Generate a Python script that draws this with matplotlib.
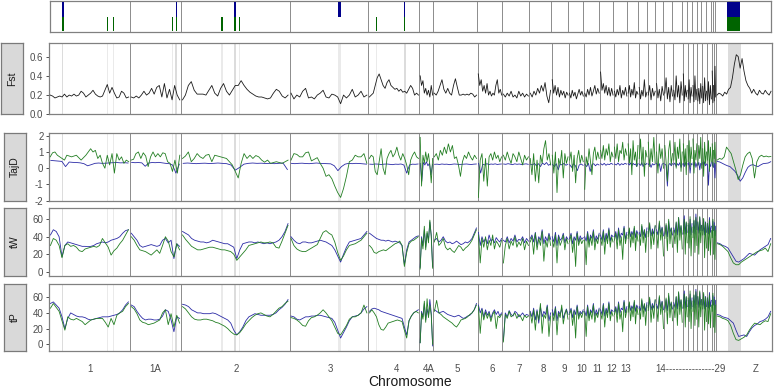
import numpy as np
import matplotlib
matplotlib.use("Agg")
import matplotlib.pyplot as plt

plt.rcParams["font.family"] = ["Liberation Sans", "DejaVu Sans"]

# chromosomes and their lengths (Mb)
chroms = ["1", "1A", "2", "3", "4", "4A", "5", "6", "7", "8", "9", "10", "11", "12", "13",
          "14", "15", "17", "18", "19", "20", "21", "22", "23", "24", "25", "26", "27", "28", "Z"]
chrom_len = [117, 74, 157, 114, 74, 20, 64, 36, 39, 32, 25, 22, 23, 20, 20,
             16, 13, 12, 12, 13, 14, 7, 7, 7, 7, 7, 7, 3, 3, 81]

axis_labels = ["1", "1A", "2", "3", "4", "4A", "5", "6", "7", "8", "9", "10", "11", "12", "13",
               "14" + "-" * 15 + "29", "Z"]
label_pos = [58.6, 153.4, 270.6, 407.7, 502.9, 549.2, 591.2, 641.8, 680.2, 715.3, 745.3,
             770.9, 792.6, 814.3, 833.6, 927.6, 1021.7]

# outlier windows (Mb position, width)
blue_pos = [19.8, 183.7, 269.1, 420.3, 515.0, 992.0]
blue_w = [2.0, 2.0, 2.0, 3.4, 2.0, 18.8]
green_pos = [19.8, 84.3, 93.0, 178.4, 183.7, 250.3, 269.1, 275.3, 474.1, 515.0, 992.0]
green_w = [2.0, 1.8, 1.8, 1.8, 2.0, 3.7, 2.0, 1.8, 1.8, 2.0, 18.8]

# one list of window values per chromosome
fst = [
    [0.20, 0.19, 0.17, 0.18, 0.19, 0.18, 0.21, 0.18, 0.20, 0.19, 0.21, 0.19, 0.20, 0.24, 0.22, 0.18, 0.20,
     0.22, 0.25, 0.21, 0.19, 0.18, 0.19, 0.25, 0.31, 0.22, 0.28, 0.22, 0.17, 0.18, 0.24, 0.22, 0.17, 0.18],
    [0.18, 0.17, 0.19, 0.17, 0.20, 0.24, 0.20, 0.22, 0.27, 0.21, 0.28, 0.30, 0.18, 0.32, 0.17, 0.26, 0.15,
     0.30, 0.20, 0.15],
    [0.15, 0.20, 0.30, 0.34, 0.25, 0.21, 0.21, 0.21, 0.20, 0.25, 0.30, 0.22, 0.19, 0.27, 0.32, 0.24, 0.20,
     0.25, 0.30, 0.30, 0.35, 0.30, 0.26, 0.23, 0.21, 0.19, 0.18, 0.18, 0.17, 0.16, 0.17, 0.22, 0.26, 0.24,
     0.19, 0.17, 0.20],
    [0.22, 0.16, 0.20, 0.18, 0.24, 0.27, 0.17, 0.18, 0.16, 0.20, 0.22, 0.25, 0.18, 0.17, 0.21, 0.20, 0.18,
     0.11, 0.20, 0.17, 0.20, 0.26, 0.18, 0.20, 0.24, 0.18, 0.20],
    [0.18, 0.20, 0.22, 0.30, 0.38, 0.42, 0.36, 0.30, 0.27, 0.33, 0.36, 0.30, 0.28, 0.26, 0.27, 0.24, 0.26,
     0.23, 0.24, 0.22, 0.26, 0.30, 0.27, 0.20, 0.22, 0.20],
    [0.40, 0.30, 0.35, 0.22, 0.27, 0.20, 0.25, 0.18, 0.30, 0.20],
    [0.22, 0.20, 0.24, 0.30, 0.36, 0.26, 0.22, 0.27, 0.22, 0.20, 0.30, 0.37, 0.28, 0.20, 0.20, 0.21, 0.20,
     0.21, 0.20, 0.22, 0.21, 0.18, 0.20],
    [0.42, 0.30, 0.36, 0.24, 0.30, 0.22, 0.32, 0.20, 0.24, 0.19, 0.22, 0.20, 0.30, 0.36, 0.22, 0.26, 0.20],
    [0.21, 0.18, 0.22, 0.19, 0.24, 0.18, 0.20, 0.17, 0.24, 0.19, 0.22, 0.18, 0.21, 0.19],
    [0.22, 0.18, 0.24, 0.20, 0.27, 0.22, 0.30, 0.24, 0.33, 0.19, 0.12, 0.25],
    [0.36, 0.22, 0.30, 0.20, 0.28, 0.18, 0.25, 0.20, 0.24, 0.17, 0.23, 0.20],
    [0.22, 0.17, 0.25, 0.19, 0.23, 0.16, 0.21, 0.26, 0.20, 0.24, 0.19],
    [0.22, 0.18, 0.26, 0.20, 0.28, 0.19, 0.24, 0.30, 0.21, 0.27, 0.22],
    [0.44, 0.25, 0.32, 0.22, 0.30, 0.20, 0.28, 0.19, 0.27, 0.20],
    [0.24, 0.18, 0.26, 0.20, 0.30, 0.17, 0.25, 0.20, 0.28, 0.19],
    [0.22, 0.30, 0.18, 0.26, 0.20, 0.33, 0.17, 0.24, 0.21],
    [0.28, 0.16, 0.25, 0.19, 0.36, 0.18, 0.23],
    [0.20, 0.30, 0.15, 0.27, 0.19, 0.24],
    [0.32, 0.17, 0.26, 0.14, 0.29, 0.20],
    [0.22, 0.38, 0.16, 0.28, 0.13, 0.30, 0.19],
    [0.25, 0.15, 0.40, 0.18, 0.30, 0.12, 0.34, 0.20],
    [0.42, 0.14, 0.30, 0.18, 0.25],
    [0.16, 0.36, 0.12, 0.28, 0.19],
    [0.30, 0.13, 0.40, 0.15, 0.26],
    [0.14, 0.27, 0.11, 0.32, 0.17],
    [0.29, 0.12, 0.38, 0.14, 0.24],
    [0.15, 0.34, 0.10, 0.30, 0.16],
    [0.45, 0.12, 0.30],
    [0.14, 0.50, 0.18],
    [0.20, 0.22, 0.21, 0.19, 0.23, 0.21, 0.26, 0.28, 0.38, 0.52, 0.62, 0.60, 0.48, 0.58, 0.45, 0.35, 0.30,
     0.27, 0.22, 0.26, 0.22, 0.20, 0.25, 0.22, 0.21, 0.25, 0.22, 0.20, 0.24],
]

tajd_blue = [
    [0.48, 0.46, 0.44, 0.42, 0.10, 0.38, 0.36, 0.35, 0.33, 0.28, 0.15, 0.22, 0.30, 0.32, 0.30, 0.31, 0.33,
     0.34, 0.35, 0.33, 0.34, 0.32],
    [0.36, 0.34, 0.35, 0.33, 0.12, 0.32, 0.35, 0.34, 0.36, 0.33, 0.30, 0.28, 0.20, -0.30, 0.25],
    [0.30, 0.32, 0.30, 0.28, 0.30, 0.31, 0.29, 0.30, 0.32, 0.30, 0.28, 0.20, -0.12, 0.05, 0.25, 0.30, 0.32,
     0.30, 0.31, 0.29, 0.30, 0.28, 0.30, 0.32, -0.08],
    [0.30, 0.28, 0.30, 0.31, 0.29, 0.28, 0.30, 0.32, 0.30, 0.29, 0.28, 0.27, 0.15, -0.15, 0.10, 0.25, 0.30,
     0.28, 0.30, 0.29, 0.27, 0.25],
    [0.25, 0.24, 0.26, 0.25, 0.23, 0.25, 0.26, 0.24, 0.22, 0.25, 0.24, 0.26, 0.20, -0.30, 0.20, 0.25, 0.24,
     0.26],
    [0.30, -0.80, 0.35, 0.20, 0.40, 0.15, 0.30, -0.40, 0.25],
    [0.24, 0.25, 0.23, 0.26, 0.24, 0.25, 0.22, 0.24, 0.26, 0.25, 0.23, 0.24, 0.25, 0.26, 0.24, 0.23, 0.25,
     0.26],
    [0.30, -0.30, 0.25, 0.20, 0.28, 0.22, 0.26, 0.24, 0.27, 0.23, 0.25, 0.26],
    [0.26, 0.24, 0.28, 0.25, 0.22, 0.27, 0.24, 0.26, 0.23, 0.25, 0.27, 0.24],
    [0.25, 0.20, 0.30, 0.15, 0.28, 0.10, 0.32, 0.22, 0.35, 0.18, 0.26],
    [0.24, 0.10, 0.28, -0.10, 0.26, 0.20, 0.30, 0.18, 0.25],
    [0.22, 0.05, 0.28, 0.15, -0.15, 0.20, 0.26, 0.18],
    [0.25, 0.10, 0.30, -0.20, 0.22, 0.28, 0.15, 0.26, 0.20],
    [0.28, 0.20, 0.30, 0.18, 0.26, 0.22, 0.30, 0.24],
    [0.26, 0.20, 0.32, 0.18, 0.28, 0.22, 0.30, 0.25],
    [0.28, 0.20, 0.32, 0.15, 0.30, 0.22, 0.26, 0.10, 0.30],
    [0.25, 0.18, 0.35, 0.10, 0.28, 0.22, 0.30],
    [0.22, 0.32, 0.05, 0.28, 0.20, 0.26],
    [0.30, 0.15, 0.28, -0.20, 0.25, 0.30],
    [0.26, 0.18, -1.10, 0.20, 0.30, 0.15, 0.28],
    [0.22, 0.32, 0.10, 0.28, 0.18, 0.34, 0.05, 0.26],
    [0.30, 0.10, 0.35, 0.15, 0.28],
    [0.20, 0.38, -0.30, 0.30, 0.22],
    [0.32, 0.12, 0.40, 0.05, 0.28],
    [0.18, 0.36, -0.10, 0.30, 0.24],
    [0.34, 0.08, 0.40, 0.15, 0.26],
    [0.22, -1.05, 0.30, 0.10, 0.35],
    [0.15, 0.38, 0.05],
    [0.30, -0.60, 0.28],
    [0.42, 0.38, 0.30, 0.22, 0.15, 0.10, -0.05, -0.20, -0.45, -0.80, -0.60, -0.25, 0.05, 0.18, 0.22, 0.15,
     0.10, 0.20, 0.28, 0.30, 0.32, 0.40],
]

tajd_green = [
    [0.70, 0.95, 1.00, 0.80, 0.70, 0.60, 0.50, 0.80, 0.75, 0.70, 0.75, 0.80, 0.65, 0.50, 0.65, 0.80, 1.00,
     1.20, 1.00, 1.10, 0.60, 0.80, 0.30, 0.00, 0.80, 0.20, 0.90, -0.30, 0.90, 0.50, 0.70, 0.30, 0.50, 0.40],
    [0.50, 0.55, 0.90, 1.00, 0.60, 0.95, 0.75, 0.10, 0.70, 1.00, 0.70, 0.90, 0.70, 0.95, 0.90, 0.40, 0.30,
     -0.20, 0.50, -0.30, 0.80],
    [0.60, 0.75, 1.00, 0.40, 0.60, 0.90, 0.70, 0.60, 0.80, 0.85, 0.40, 0.80, 0.75, 0.70, 0.65, 0.60, 0.40,
     0.20, -0.20, -0.60, 0.30, 0.90, 0.60, 0.80, 0.60, 0.78, 0.70, 0.50, 0.37, 0.50, 0.30, 0.35, 0.40, 0.35,
     0.30, 0.40, 0.50],
    [0.50, 0.90, 0.85, 0.70, 0.70, 0.95, 1.00, 0.45, 0.55, 0.65, 0.30, 0.00, -0.50, -0.40, -0.65, -1.10,
     -1.50, -1.80, -1.25, -0.50, 0.40, 0.50, 0.80, 0.70, 0.70, 0.90, 0.30],
    [0.60, 0.80, 0.70, -0.20, -0.40, 0.40, 1.20, 0.00, -0.40, 0.60, 0.90, 1.10, 0.70, 0.90, 1.30, 0.80, 0.50,
     0.90, 0.60, 0.20, -0.40, 0.50, 0.80, 1.00, 0.70, 0.60],
    [1.90, -1.10, 0.80, 0.30, 1.00, 0.40, 0.90, 0.20, -0.90, 0.60],
    [0.70, 0.90, 0.50, 1.10, 0.80, 1.30, 0.90, 1.50, 1.00, 1.40, 0.60, 0.70, 0.20, -0.50, 0.40, 0.80, 0.60,
     1.00, 0.70, 0.50, 0.80, 0.60],
    [-1.80, 0.50, 0.90, -0.80, 0.60, -1.10, 0.70, 0.90, 0.50, 1.00, 0.60, 0.80, 0.40, 0.70],
    [0.80, 0.50, 1.00, 0.60, 0.30, 0.90, 0.70, 0.40, 1.00, 0.60, 0.20, 0.80, 0.50, 0.70],
    [0.60, -0.40, 0.90, -0.80, 0.50, -0.90, 0.80, 0.30, 1.20, 1.70, 0.50, 0.90, 0.20],
    [0.80, -0.30, 1.00, -1.50, 0.60, 0.20, 1.10, -0.60, 0.90, 0.30, 0.70],
    [0.50, 1.00, -0.20, 0.80, -0.90, 0.60, 1.10, 0.30, 0.80, 0.40],
    [-1.30, 0.70, 0.20, 1.20, 0.40, -0.40, 0.90, 1.30, 0.50, 1.00, 0.60],
    [1.10, 0.60, 1.40, 0.50, 1.20, 0.80, 1.50, 0.40, 1.00, 0.70],
    [1.30, 0.60, 1.50, 0.40, 1.10, 0.90, 1.60, 0.50, 1.20, 0.80],
    [1.50, 0.30, 1.20, -0.40, 1.70, 0.50, 1.00, 0.10, 1.40],
    [0.60, 1.80, 0.20, 1.30, -0.50, 1.10, 0.70],
    [1.60, 0.10, 1.20, 0.40, 1.90, 0.30],
    [1.00, -0.30, 1.50, 0.60, 1.20, 0.00],
    [1.40, 0.40, -0.80, 1.10, 1.70, 0.20, 0.90],
    [0.50, 1.60, 0.00, 1.30, 0.60, 1.80, -0.20, 1.00],
    [1.50, 0.20, 1.20, -0.40, 1.40],
    [0.40, 1.70, 0.10, 1.30, 0.60],
    [1.80, -0.30, 1.10, 0.50, 1.50],
    [0.20, 1.40, 0.60, 1.90, 0.00],
    [1.20, -0.50, 1.60, 0.30, 1.00],
    [0.50, 1.70, -0.20, 1.30, 0.40],
    [1.50, 0.10, 1.10],
    [0.60, 1.60, 0.30],
    [0.50, 0.60, 0.55, 0.70, 1.30, 1.10, 0.90, 0.40, -0.10, -0.70, -0.40, 0.20, 0.70, 0.90, 1.00, 0.60,
     -0.60, 0.40, 0.70, 0.80, 0.70, 0.75, 0.70, 0.72],
]

tw_blue = [
    [42, 48, 46, 40, 17, 30, 34, 33, 32, 31, 30, 29, 29, 28.6, 29, 30, 32, 33, 34, 33, 34, 36, 37, 38, 40,
     44, 47, 48],
    [44, 40, 36, 30, 28, 29, 30, 31, 30, 29, 30, 36, 38, 33, 36, 15, 32, 29],
    [46, 44, 42, 38, 36, 35, 34, 34, 33, 34, 36, 35, 34, 33, 32, 32, 30, 28, 15, 25, 32, 33, 34, 34, 33, 34,
     33, 32, 33, 32, 33, 34, 36, 40, 46, 55],
    [40, 36, 33, 32, 34, 34, 33, 33, 34, 35, 36, 35, 34, 32, 30, 25, 18, 11, 20, 28, 34, 35, 36, 37, 38, 42,
     46],
    [44, 42, 40, 38, 37, 36, 36, 35, 36, 35, 34, 35, 34, 33, 30, 8, 25, 34, 36, 38, 40, 41],
    [5, 40, 30, 48, 28, 44, 36, 57, 42, 6],
    [36, 38, 34, 36, 40, 35, 33, 34, 32, 33, 35, 33, 31, 32, 34, 33, 35, 38, 44, 50],
    [45, 30, 40, 34, 38, 32, 42, 35, 37, 33, 39, 36, 34, 38],
    [36, 34, 40, 33, 38, 35, 42, 34, 37, 36, 40, 33, 38, 35],
    [38, 42, 34, 45, 30, 40, 36, 48, 32, 40, 35, 44, 37],
    [40, 34, 45, 30, 42, 36, 38, 44, 33, 40, 37],
    [38, 44, 32, 40, 36, 46, 34, 41, 37, 39],
    [40, 35, 46, 33, 42, 38, 48, 34, 41, 37, 44],
    [42, 36, 48, 34, 44, 38, 50, 35, 42, 40],
    [40, 46, 36, 50, 38, 44, 42, 52, 37, 45],
    [42, 48, 40, 46, 42, 50, 39, 47, 43],
    [45, 40, 52, 42, 48, 39, 50],
    [44, 54, 41, 49, 43, 52],
    [48, 42, 56, 44, 51, 41],
    [43, 53, 40, 58, 45, 50, 42],
    [50, 44, 56, 42, 62, 45, 52, 43],
    [47, 64, 43, 56, 45],
    [53, 44, 60, 42, 55],
    [45, 58, 43, 66, 48],
    [56, 44, 62, 47, 53],
    [47, 60, 42, 57, 45],
    [55, 43, 62, 45, 52],
    [44, 58, 47],
    [56, 41, 52],
    [33, 32, 30, 29, 27, 22, 17, 12, 11, 13, 15, 18, 21, 20, 19, 22, 25, 27, 29, 31, 38],
]

tw_green = [
    [30, 38, 36, 30, 16, 30, 32, 29, 30, 28, 24, 23, 26, 27, 28, 29, 28, 30, 38, 33, 28, 19, 24, 27, 32, 36,
     42, 48],
    [40, 36, 30, 25, 24, 23, 21, 19, 22, 25, 21, 30, 40, 35, 23, 17, 32, 25],
    [42, 37, 33, 29, 27, 25, 25, 26, 27, 28, 28, 27, 26, 25, 25, 24, 23, 20, 13, 17, 21, 25, 30, 31, 32, 33,
     34, 33, 33, 34, 33, 28, 27, 35, 44, 53],
    [38, 30, 26, 24, 23, 23, 25, 27, 29, 31, 38, 45, 47, 44, 42, 34, 22, 13, 18, 25, 30, 31, 32, 34, 36, 40,
     44],
    [30, 27, 22, 21, 23, 24, 25, 24, 26, 28, 30, 32, 33, 35, 30, 6, 22, 32, 35, 36, 38, 40],
    [3, 38, 26, 52, 25, 46, 33, 59, 40, 4],
    [34, 45, 30, 33, 38, 28, 25, 27, 24, 22, 26, 30, 28, 24, 27, 29, 32, 36, 42, 48],
    [42, 10, 38, 28, 40, 25, 36, 30, 42, 26, 35, 32, 28, 36],
    [10, 30, 38, 26, 35, 30, 40, 28, 34, 30, 38, 25, 35, 30],
    [34, 40, 20, 44, 25, 38, 30, 46, 12, 36, 28, 42, 30],
    [36, 28, 42, 10, 40, 30, 35, 42, 25, 38, 32],
    [34, 42, 22, 38, 6, 44, 30, 38, 32, 36],
    [36, 8, 44, 28, 40, 30, 46, 25, 38, 32, 42],
    [38, 30, 46, 20, 42, 32, 48, 28, 40, 34],
    [36, 44, 26, 48, 30, 40, 14, 50, 32, 42],
    [38, 50, 28, 44, 33, 52, 24, 45, 35],
    [42, 30, 54, 33, 48, 22, 46],
    [40, 56, 26, 47, 31, 53],
    [45, 27, 58, 36, 50, 18],
    [38, 55, 24, 60, 32, 50, 28],
    [47, 32, 57, 22, 62, 36, 53, 26],
    [43, 60, 20, 57, 33],
    [55, 27, 63, 18, 51],
    [39, 59, 22, 62, 30],
    [57, 20, 63, 33, 53],
    [42, 61, 16, 56, 27],
    [55, 24, 59, 19, 47],
    [39, 60, 20],
    [53, 14, 47],
    [32, 31, 29, 26, 23, 16, 10, 8, 8, 11, 13, 15, 17, 19, 21, 23, 24, 25, 27, 23, 32],
]

tp_blue = [
    [52, 54, 50, 46, 35, 20, 33, 40, 38, 36, 35, 35, 34, 32, 31, 32, 33, 34, 35, 35, 35, 36, 37, 38, 40, 44,
     50, 54],
    [50, 48, 42, 37, 33, 31, 32, 32, 31, 31, 32, 36, 44, 42, 31, 16, 35, 33],
    [51, 50, 48, 44, 42, 40, 40, 39, 39, 39, 40, 39, 37, 35, 33, 31, 27, 18, 12, 16, 22, 30, 35, 37, 39, 38,
     37, 37, 37, 37, 38, 40, 44, 47, 51, 57],
    [36, 35, 32, 31, 33, 35, 35, 36, 36, 37, 37, 36, 35, 34, 33, 28, 18, 8, 15, 22, 30, 35, 36, 37, 40, 45,
     48],
    [42, 45, 46, 45, 44, 42, 41, 40, 39, 38, 37, 36, 35, 34, 33, 22, 12, 30, 36, 40, 42, 44],
    [2, 42, 35, 52, 31, 45, 36, 57, 40, -2],
    [44, 42, 40, 41, 42, 40, 38, 37, 36, 35, 36, 37, 35, 33, 34, 36, 37, 40, 44, 52],
    [50, 40, 46, 35, 44, 37, 42, 33, 40, 44, 38, 42, 36, 40],
    [5, 40, 35, 43, 38, 36, 42, 40, 35, 37, 40, 36, 38, 37],
    [42, 35, 46, 31, 44, 27, 48, 35, 42, 38, 50, 30, 40],
    [44, 36, 48, 30, 42, 38, 46, 33, 40, 45, 38],
    [40, 46, 34, 44, 38, 50, 36, 42, 39, 44],
    [42, 36, 50, 34, 44, 40, 52, 36, 44, 38, 46],
    [44, 38, 52, 36, 46, 40, 54, 38, 44, 42],
    [42, 48, 38, 54, 40, 46, 44, 56, 40, 48],
    [45, 52, 43, 49, 45, 54, 42, 50, 46],
    [48, 43, 56, 45, 51, 42, 53],
    [47, 58, 44, 52, 46, 56],
    [51, 45, 60, 47, 55, 44],
    [46, 57, 43, 62, 48, 53, 45],
    [53, 47, 60, 45, 66, 48, 56, 46],
    [50, 68, 46, 60, 48],
    [56, 47, 64, 45, 59],
    [48, 62, 46, 70, 51],
    [60, 47, 66, 50, 57],
    [50, 64, 45, 61, 48],
    [59, 46, 66, 48, 56],
    [47, 62, 50],
    [60, 44, 56],
    [38, 37, 35, 34, 33, 30, 27, 18, 10, 11, 12, 10, 16, 21, 24, 26, 29, 30, 32, 35, 42],
]

tp_green = [
    [46, 52, 47, 42, 30, 18, 35, 32, 31, 33, 31, 29, 25, 28, 31, 32, 33, 33, 33, 28, 22, 33, 25, 37, 40, 42,
     48, 52],
    [48, 45, 39, 31, 28, 27, 25, 26, 27, 29, 31, 40, 44, 25, 39, 22, 37, 27],
    [48, 45, 40, 35, 32, 31, 31, 32, 32, 31, 30, 28, 27, 25, 23, 20, 16, 13, 12, 15, 20, 26, 30, 34, 37, 39,
     40, 38, 36, 35, 38, 42, 46, 48, 52, 55],
    [34, 33, 31, 28, 24, 23, 30, 34, 35, 37, 40, 44, 40, 35, 30, 22, 14, 12, 18, 24, 32, 35, 35, 37, 40, 50,
     40],
    [40, 44, 40, 35, 25, 19, 18, 22, 27, 28, 29, 30, 31, 30, 29, 18, 8, 30, 36, 40, 42, 40],
    [2, 40, 32, 55, 28, 58, 34, 50, 37, 0],
    [42, 56, 40, 38, 35, 33, 31, 29, 27, 24, 22, 26, 31, 32, 33, 35, 38, 40, 44, 50],
    [48, 14, 44, 31, 41, 33, 40, 29, 38, 42, 20, 36, 34, 38],
    [3, 38, 33, 42, 35, 37, 40, 33, 38, 35, 30, 37, 34, 36],
    [40, 27, 44, 18, 42, 31, 52, 14, 38, 33, 48, 10, 36],
    [40, 30, 46, 12, 40, 34, 50, 26, 38, 44, 32],
    [38, 44, 24, 42, 8, 48, 32, 40, 34, 42],
    [40, 10, 48, 30, 42, 32, 50, 28, 40, 34, 44],
    [40, 32, 50, 22, 44, 34, 52, 30, 42, 36],
    [38, 46, 28, 52, 32, 42, 16, 54, 34, 44],
    [41, 54, 30, 47, 35, 56, 26, 48, 38],
    [45, 32, 58, 35, 52, 24, 50],
    [43, 60, 28, 50, 33, 57],
    [48, 29, 62, 38, 54, 20],
    [41, 59, 26, 65, 34, 54, 30],
    [50, 34, 61, 24, 67, 38, 57, 28],
    [46, 64, 22, 61, 35],
    [59, 29, 68, 20, 55],
    [42, 63, 24, 67, 32],
    [61, 22, 68, 35, 57],
    [45, 66, 18, 60, 29],
    [59, 26, 63, 21, 50],
    [42, 65, 22],
    [57, 15, 50],
    [36, 35, 33, 32, 30, 24, 14, 6, 5, 7, 9, 12, 18, 23, 27, 26, 25, 28, 30, 29, 39],
]

BLUE = "#2b2ba6"
GREEN = "#237f23"
BORDER = "#808080"

starts = np.concatenate([[0], np.cumsum(chrom_len)[:-1]])
total = float(sum(chrom_len))
bounds = np.cumsum(chrom_len)[:-1]


def positions(i, n):
    return starts[i] + (np.arange(n) + 0.5) / n * chrom_len[i]


def draw_series(ax, series, color, lw=0.6):
    for i, vals in enumerate(series):
        ax.plot(positions(i, len(vals)), vals, color=color, lw=lw, zorder=3)


def style_panel(ax):
    ax.set_xlim(0, total)
    for s in ax.spines.values():
        s.set_color(BORDER)
        s.set_linewidth(0.9)
    for b in bounds:
        ax.axvline(b, color="#8c8c8c", lw=0.7, zorder=1)
    ax.tick_params(axis="y", length=2.5, width=0.6, color="#333333", labelsize=7,
                   labelcolor="#4d4d4d", pad=1.5)
    ax.tick_params(axis="x", length=0, labelbottom=False)


def shade(ax):
    for p, w in list(zip(blue_pos, blue_w)) + list(zip(green_pos, green_w)):
        ax.axvspan(p - w / 2, p + w / 2, color="#c4c4c4", alpha=0.35, lw=0, zorder=0)


def strip(fig, rect, label):
    sax = fig.add_axes(rect)
    sax.set_facecolor("#d9d9d9")
    sax.set_xticks([])
    sax.set_yticks([])
    for s in sax.spines.values():
        s.set_color("#7a7a7a")
        s.set_linewidth(0.9)
    sax.text(0.5, 0.5, label, rotation=90, ha="center", va="center", fontsize=7.5,
             color="#1a1a1a", transform=sax.transAxes)


W, H = 774.0, 388.0
fig = plt.figure(figsize=(7.74, 3.88), dpi=100)


def rect(x0, y0, x1, y1):
    return [x0 / W, 1 - y1 / H, (x1 - x0) / W, (y1 - y0) / H]


# -------- outlier track --------
ax0 = fig.add_axes(rect(49.5, 1, 771, 32))
style_panel(ax0)
ax0.set_yticks([])
ax0.set_ylim(-0.08, 2.08)
ax0.bar(blue_pos, 1, width=blue_w, bottom=1, color="#00008b", lw=0, zorder=3)
ax0.bar(green_pos, 1, width=green_w, bottom=0, color="#006400", lw=0, zorder=3)

# -------- Fst --------
ax1 = fig.add_axes(rect(49, 42.7, 772, 114.3))
style_panel(ax1)
shade(ax1)
draw_series(ax1, fst, "#1a1a1a")
ax1.set_ylim(0, 0.745)
ax1.set_yticks([0, 0.2, 0.4, 0.6])
ax1.set_yticklabels(["0.0", "0.2", "0.4", "0.6"])
strip(fig, rect(1, 42.7, 23, 114.3), "Fst")

# -------- TajD --------
ax2 = fig.add_axes(rect(49, 133.3, 772, 200.7))
style_panel(ax2)
shade(ax2)
draw_series(ax2, tajd_blue, BLUE)
draw_series(ax2, tajd_green, GREEN)
ax2.set_ylim(-2.0, 2.15)
ax2.set_yticks([-2, -1, 0, 1, 2])
ax2.set_yticklabels(["-2", "-1", "0", "1", "2"])
strip(fig, rect(4.3, 133.3, 25.7, 200.7), "TajD")

# -------- tW --------
ax3 = fig.add_axes(rect(49, 208.3, 772, 276))
style_panel(ax3)
shade(ax3)
draw_series(ax3, tw_blue, BLUE)
draw_series(ax3, tw_green, GREEN)
ax3.set_ylim(-4.9, 72.5)
ax3.set_yticks([0, 20, 40, 60])
strip(fig, rect(4.3, 208.3, 25.7, 276), "tW")

# -------- tP --------
ax4 = fig.add_axes(rect(49, 284, 772, 351))
style_panel(ax4)
shade(ax4)
draw_series(ax4, tp_blue, BLUE)
draw_series(ax4, tp_green, GREEN)
ax4.set_ylim(-8.5, 76.8)
ax4.set_yticks([0, 20, 40, 60])
strip(fig, rect(4.3, 284, 25.7, 351), "tP")

ax4.set_xticks(label_pos)
ax4.set_xticklabels(axis_labels)
ax4.tick_params(axis="x", length=0, labelbottom=True, labelsize=7, labelcolor="#4d4d4d", pad=9)

fig.text(410 / W, 1 - 382 / H, "Chromosome", ha="center", va="center", fontsize=10, color="#1a1a1a")

fig.savefig("out.png", dpi=100, facecolor="white")
